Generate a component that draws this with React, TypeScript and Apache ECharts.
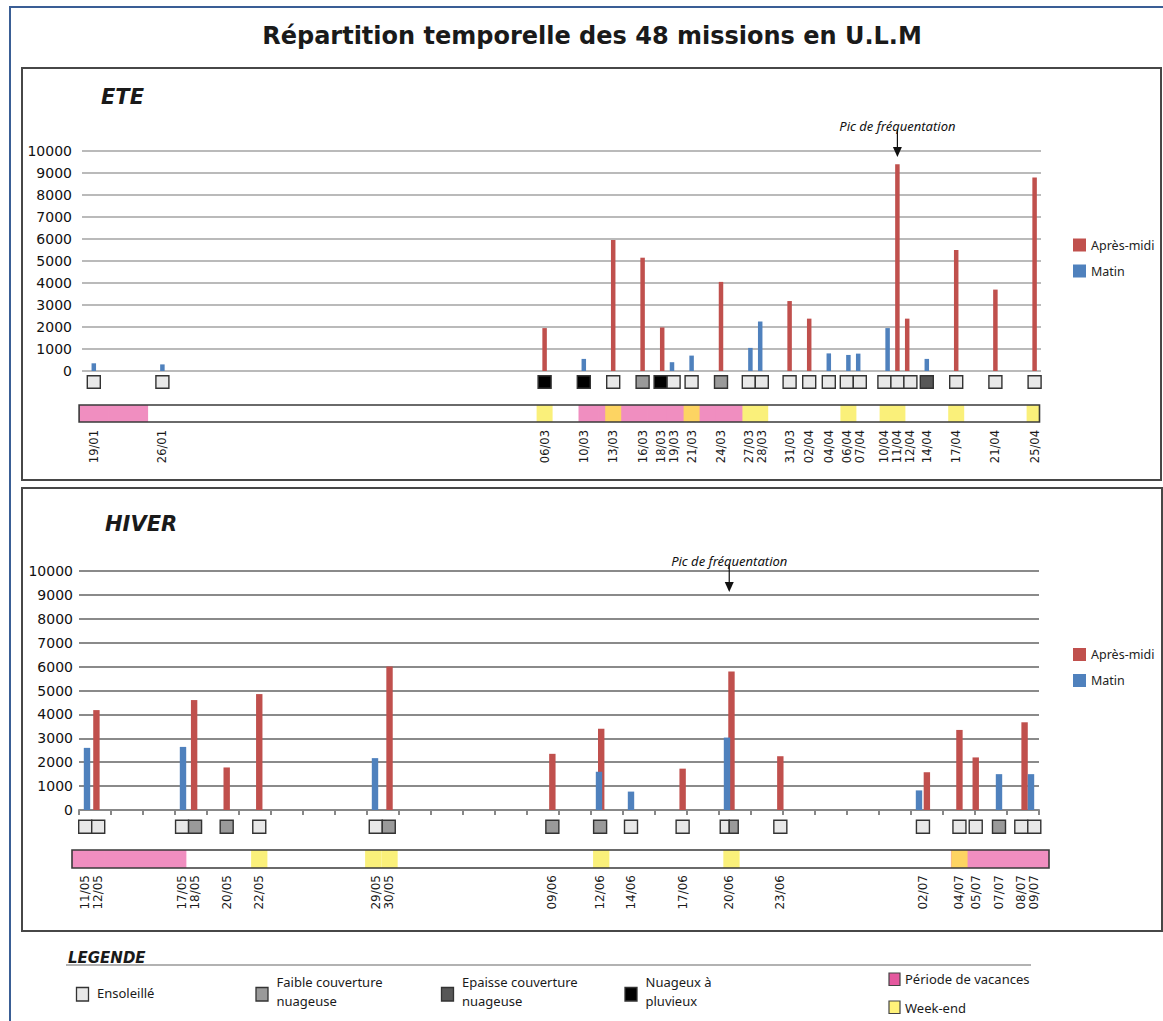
import React, { useEffect, useRef } from 'react';
import * as echarts from 'echarts';

const YEAR = 2010;

// ---------- ETE ----------
const eteFirstDay = '19/01';
const eteLastDay = '25/04';
const eteStripFirstDay = '18/01';
const eteDates = ['19/01', '26/01', '06/03', '10/03', '13/03', '16/03', '18/03', '19/03', '21/03', '24/03', '27/03', '28/03',
  '31/03', '02/04', '04/04', '06/04', '07/04', '10/04', '11/04', '12/04', '14/04', '17/04', '21/04', '25/04'];
const eteMatin = [350, 300, null, 550, null, null, null, 400, 700, null, 1050, 2250,
  null, null, 800, 730, 790, 1950, null, null, 550, null, null, null];
const eteApresMidi = [null, null, 1950, null, 5950, 5150, 1980, null, null, 4050, null, null,
  3180, 2380, null, null, null, null, 9400, 2380, null, 5500, 3700, 8800];
// S = ensoleillé, F = faible couverture, E = épaisse couverture, P = nuageux à pluvieux
const eteMeteo = ['S', 'S', 'P', 'P', 'S', 'F', 'P', 'S', 'S', 'F', 'S', 'S',
  'S', 'S', 'S', 'S', 'S', 'S', 'S', 'S', 'E', 'S', 'S', 'S'];
const eteVacances = [['18/01', '24/01'], ['10/03', '26/03']];
const eteWeekEnds = ['06/03', '13/03', '21/03', '27/03', '28/03', '06/04', '10/04', '11/04', '17/04', '25/04'];
const etePic = '11/04';

// ---------- HIVER ----------
const hivFirstDay = '11/05';
const hivLastDay = '09/07';
const hivDates = ['11/05', '12/05', '17/05', '18/05', '20/05', '22/05', '29/05', '30/05', '09/06', '12/06',
  '14/06', '17/06', '20/06', '23/06', '02/07', '04/07', '05/07', '07/07', '08/07', '09/07'];
const hivMatin = [2600, null, 2640, null, null, null, 2170, null, null, 1600,
  770, null, 3030, null, 820, null, null, 1500, null, 1500];
const hivApresMidi = [null, 4180, null, 4600, 1780, 4850, null, 6000, 2350, 3400,
  null, 1730, 5800, 2250, 1580, 3350, 2200, null, 3670, null];
const hivMeteo = ['S', 'S', 'S', 'F', 'F', 'S', 'S', 'F', 'F', 'F',
  'S', 'S', 'SF', 'S', 'S', 'S', 'S', 'F', 'S', 'S'];
const hivVacances = [['11/05', '17/05'], ['04/07', '09/07']];
const hivWeekEnds = ['22/05', '29/05', '30/05', '12/06', '20/06', '04/07'];
const hivPic = '20/06';

// ---------- texts ----------
const mainTitle = 'Répartition temporelle des 48 missions en U.L.M';
const seriesNames = ['Après-midi', 'Matin'];
const picText = 'Pic de fréquentation';
const meteoLegend: [string, string[]][] = [
  ['S', ['Ensoleillé']],
  ['F', ['Faible couverture', 'nuageuse']],
  ['E', ['Epaisse couverture', 'nuageuse']],
  ['P', ['Nuageux à', 'pluvieux']],
];

// ---------- styles ----------
const RED = '#C0504D';
const BLUE = '#4F81BD';
const PINK = '#F08EC0';
const YELLOW = '#FAF07A';
const ORANGE = '#FDD462';
const LEGEND_PINK = '#E4589E';
const LEGEND_YELLOW = '#FFF27A';
const METEO_COLORS: Record<string, string> = { S: '#E8E8E8', F: '#9A9A9A', E: '#575757', P: '#000000' };
const AXIS_FONT = 'DejaVu Sans';
const TEXT_FONT = 'Noto Sans';

function parseDay(s: string) {
  const [d, m] = s.split('/').map(Number);
  return new Date(YEAR, m - 1, d);
}
function fmtDay(t: Date) {
  return String(t.getDate()).padStart(2, '0') + '/' + String(t.getMonth() + 1).padStart(2, '0');
}
function dayRange(a: string, b: string) {
  const out: string[] = [];
  const end = parseDay(b);
  for (let t = parseDay(a); t <= end; t = new Date(t.getFullYear(), t.getMonth(), t.getDate() + 1)) out.push(fmtDay(t));
  return out;
}
function perDay(days: string[], dates: string[], values: (number | null)[]) {
  return days.map((day) => {
    const i = dates.indexOf(day);
    return i >= 0 && values[i] != null ? values[i] : '-';
  });
}
function stripData(days: string[], vacances: string[][], weekEnds: string[]) {
  const inVac = (day: string) => vacances.some(([a, b]) => parseDay(day) >= parseDay(a) && parseDay(day) <= parseDay(b));
  const vac = days.map((d, i) => (inVac(d) ? [i, 1] : null)).filter(Boolean);
  const we = weekEnds.map((d) => [days.indexOf(d), inVac(d) ? 1 : 0]);
  return { vac, we };
}

const eteDays = dayRange(eteFirstDay, eteLastDay);
const eteStripDays = dayRange(eteStripFirstDay, eteLastDay);
const hivDays = dayRange(hivFirstDay, hivLastDay);

function stripRenderer(kind: 'vac' | 'we') {
  return (params: any, api: any) => {
    const idx = api.value(0);
    const flag = api.value(1);
    const top = api.coord([idx, 1]);
    const bottom = api.coord([idx, 0]);
    const band = api.size([1, 0])[0];
    const w = kind === 'vac' ? band + 0.8 : Math.max(band, 16);
    const cs = params.coordSys;
    const shape = echarts.graphic.clipRectByRect(
      { x: top[0] - w / 2, y: top[1], width: w, height: bottom[1] - top[1] },
      { x: cs.x, y: cs.y, width: cs.width, height: cs.height }
    );
    if (!shape) return null;
    const fill = kind === 'vac' ? PINK : flag === 1 ? ORANGE : YELLOW;
    return { type: 'rect', shape, style: { fill } };
  };
}

const valueAxis = (gridIndex: number, shown: boolean, margin: number, lineColor: string, lineWidth: number) => ({
  gridIndex,
  type: 'value',
  min: 0,
  max: 10000,
  interval: 1000,
  show: shown,
  axisLine: { show: false },
  axisTick: { show: false },
  axisLabel: { fontFamily: AXIS_FONT, fontSize: 14, color: '#111', margin, formatter: (v: number) => String(v) },
  splitLine: { show: shown, lineStyle: { color: lineColor, width: lineWidth } },
});

function buildOption() {
  const eteStrip = stripData(eteStripDays, eteVacances, eteWeekEnds);
  const hivStrip = stripData(hivDays, hivVacances, hivWeekEnds);
  const gridBase = { containLabel: false, outerBoundsMode: 'none' };
  return {
    animation: false,
    backgroundColor: '#ffffff',
    grid: [
      { ...gridBase, left: 82, top: 151, width: 959, height: 220 },
      { ...gridBase, left: 88.9, top: 151, width: 950.6, height: 220 },
      { ...gridBase, left: 79.1, top: 405, width: 960.4, height: 17 },
      { ...gridBase, left: 79, top: 571, width: 960, height: 239 },
      { ...gridBase, left: 72, top: 571, width: 977, height: 239 },
      { ...gridBase, left: 72, top: 850, width: 977, height: 18 },
    ],
    xAxis: [
      { gridIndex: 0, type: 'value', min: 0, max: 1, show: false },
      { gridIndex: 1, type: 'category', data: eteDays, show: false },
      { gridIndex: 2, type: 'category', data: eteStripDays, show: false },
      {
        gridIndex: 3,
        type: 'category',
        data: hivDays,
        axisLine: { show: true, lineStyle: { color: '#888', width: 2 } },
        axisTick: { show: true, interval: 1, length: 5, lineStyle: { color: '#888', width: 2 } },
        axisLabel: { show: false },
        splitLine: { show: false },
      },
      { gridIndex: 4, type: 'category', data: hivDays, show: false },
      { gridIndex: 5, type: 'category', data: hivDays, show: false },
    ],
    yAxis: [
      valueAxis(0, true, 10, '#A3A3A3', 1.5),
      valueAxis(1, false, 0, '#000', 1),
      { gridIndex: 2, type: 'value', min: 0, max: 1, show: false },
      valueAxis(3, true, 6, '#8A8A8A', 2),
      valueAxis(4, false, 0, '#000', 1),
      { gridIndex: 5, type: 'value', min: 0, max: 1, show: false },
    ],
    legend: [0, 1].map((k) => ({
      data: seriesNames,
      orient: 'vertical',
      left: 1068,
      top: k === 0 ? 233.5 : 643,
      itemWidth: 13,
      itemHeight: 13,
      itemGap: 13,
      icon: 'rect',
      selectedMode: false,
      textStyle: { fontFamily: TEXT_FONT, fontSize: 12.5, color: '#222', lineHeight: 13 },
    })),
    series: [
      {
        type: 'bar', name: 'Matin', xAxisIndex: 1, yAxisIndex: 1, z: 3,
        data: perDay(eteDays, eteDates, eteMatin), barWidth: 4.5, barGap: '-100%', itemStyle: { color: BLUE },
      },
      {
        type: 'bar', name: 'Après-midi', xAxisIndex: 1, yAxisIndex: 1,
        data: perDay(eteDays, eteDates, eteApresMidi), barWidth: 4.5, barGap: '-100%', itemStyle: { color: RED },
      },
      {
        type: 'bar', name: 'Matin', xAxisIndex: 3, yAxisIndex: 3, z: 3,
        data: perDay(hivDays, hivDates, hivMatin), barWidth: 6.4, itemStyle: { color: BLUE },
      },
      {
        type: 'bar', name: 'Après-midi', xAxisIndex: 4, yAxisIndex: 4,
        data: perDay(hivDays, hivDates, hivApresMidi), barWidth: 6.4, itemStyle: { color: RED },
      },
      { type: 'custom', xAxisIndex: 2, yAxisIndex: 2, data: eteStrip.vac, renderItem: stripRenderer('vac'), silent: true },
      { type: 'custom', xAxisIndex: 2, yAxisIndex: 2, data: eteStrip.we, renderItem: stripRenderer('we'), silent: true },
      { type: 'custom', xAxisIndex: 5, yAxisIndex: 5, data: hivStrip.vac, renderItem: stripRenderer('vac'), silent: true },
      { type: 'custom', xAxisIndex: 5, yAxisIndex: 5, data: hivStrip.we, renderItem: stripRenderer('we'), silent: true },
    ],
  };
}

// Lays adjacent missions' squares side by side, centred on their bars.
function spreadRuns(xs: number[], ws: number[]) {
  const out = xs.slice();
  let i = 0;
  while (i < xs.length) {
    let j = i;
    while (j + 1 < xs.length && xs[j + 1] - xs[j] < (ws[j] + ws[j + 1]) / 2 + 2) j++;
    let total = 0;
    let sum = 0;
    for (let k = i; k <= j; k++) { total += ws[k]; sum += xs[k]; }
    let cur = sum / (j - i + 1) - total / 2;
    for (let k = i; k <= j; k++) { out[k] = cur + ws[k] / 2; cur += ws[k]; }
    i = j + 1;
  }
  return out;
}

type PanelSpec = {
  days: string[]; dates: string[]; matin: (number | null)[]; apres: (number | null)[]; meteo: string[];
  axisMatin: number; axisApres: number; squareY: number; squareH: number; labelTop: number; labelSize: number;
  pic: string; picTextY: number; arrowTip: number;
};

function panelMarks(chart: any, p: PanelSpec) {
  const els: any[] = [];
  const xs = p.dates.map((d, i) => {
    const idx = p.days.indexOf(d);
    const pts: number[] = [];
    if (p.matin[i] != null) pts.push(chart.convertToPixel({ xAxisIndex: p.axisMatin }, idx) as number);
    if (p.apres[i] != null) pts.push(chart.convertToPixel({ xAxisIndex: p.axisApres }, idx) as number);
    return pts.reduce((s, v) => s + v, 0) / pts.length;
  });
  const widths = p.meteo.map((m) => (m.length > 1 ? 18 : 13));
  const centers = spreadRuns(xs, widths);
  centers.forEach((cx, i) => {
    const parts = p.meteo[i].split('');
    const w = widths[i];
    const pw = w / parts.length;
    parts.forEach((c, k) => {
      els.push({
        type: 'rect', silent: true, z: 10,
        shape: { x: cx - w / 2 + k * pw, y: p.squareY - p.squareH / 2, width: pw, height: p.squareH },
        style: { fill: METEO_COLORS[c], stroke: '#333', lineWidth: 1.4 },
      });
    });
    els.push({
      type: 'text', silent: true, z: 10, x: cx, y: p.labelTop, rotation: Math.PI / 2,
      style: {
        text: p.dates[i], font: `${p.labelSize}px "${AXIS_FONT}"`, fill: '#1a1a1a',
        align: 'right', verticalAlign: 'middle', textAlign: 'right', textVerticalAlign: 'middle',
      },
    });
  });
  const ax = xs[p.dates.indexOf(p.pic)];
  els.push({
    type: 'text', silent: true, z: 10, x: ax, y: p.picTextY,
    style: {
      text: picText, font: `italic 13px "${TEXT_FONT}"`, fill: '#111',
      align: 'center', verticalAlign: 'middle', textAlign: 'center', textVerticalAlign: 'middle',
    },
  });
  els.push({
    type: 'line', silent: true, z: 10,
    shape: { x1: ax, y1: p.picTextY + 4, x2: ax, y2: p.arrowTip - 8 },
    style: { stroke: '#111', lineWidth: 1.2 },
  });
  els.push({
    type: 'polygon', silent: true, z: 10,
    shape: { points: [[ax - 4.5, p.arrowTip - 10], [ax + 4.5, p.arrowTip - 10], [ax, p.arrowTip]] },
    style: { fill: '#111' },
  });
  return els;
}

function text(x: number, y: number, s: string, font: string, align = 'left') {
  return {
    type: 'text', silent: true, z: 10, x, y,
    style: { text: s, font, fill: '#1a1a1a', align, verticalAlign: 'middle', textAlign: align, textVerticalAlign: 'middle' },
  };
}
function box(x: number, y: number, width: number, height: number, stroke: string, lineWidth: number, fill = 'none') {
  return { type: 'rect', silent: true, z: 9, shape: { x, y, width, height }, style: { fill, stroke, lineWidth } };
}

function buildGraphics(chart: any) {
  const els: any[] = [];
  // frames
  els.push(box(10, 7, 1200, 1100, '#3A5E95', 2));
  els.push(box(22, 68, 1139, 412, '#474747', 2));
  els.push(box(22, 488, 1140, 443, '#474747', 2));
  // titles
  els.push(text(592, 36, mainTitle, `bold 24px "${AXIS_FONT}"`, 'center'));
  els.push(text(101, 97, 'ETE', `italic bold 21px "${AXIS_FONT}"`));
  els.push(text(105, 524, 'HIVER', `italic bold 21px "${AXIS_FONT}"`));
  // strips borders
  els.push(box(79.1, 405, 960.4, 17, '#3a3a3a', 1.6));
  els.push(box(72, 850, 977, 18, '#3a3a3a', 1.6));
  // weather squares, date labels, peak arrows
  els.push(...panelMarks(chart, {
    days: eteDays, dates: eteDates, matin: eteMatin, apres: eteApresMidi, meteo: eteMeteo,
    axisMatin: 1, axisApres: 1, squareY: 382, squareH: 12.6, labelTop: 430, labelSize: 11.5,
    pic: etePic, picTextY: 126, arrowTip: 157,
  }));
  els.push(...panelMarks(chart, {
    days: hivDays, dates: hivDates, matin: hivMatin, apres: hivApresMidi, meteo: hivMeteo,
    axisMatin: 3, axisApres: 4, squareY: 826.7, squareH: 13, labelTop: 875, labelSize: 12,
    pic: hivPic, picTextY: 561, arrowTip: 592,
  }));
  // key
  els.push(text(68, 958, 'LEGENDE', `italic bold 15px "${AXIS_FONT}"`));
  els.push({
    type: 'line', silent: true, z: 10,
    shape: { x1: 66, y1: 965, x2: 1031, y2: 965 },
    style: { stroke: '#666', lineWidth: 1.2 },
  });
  const keyX = [76.5, 256, 441.5, 625];
  meteoLegend.forEach(([code, lines], i) => {
    els.push({
      type: 'rect', silent: true, z: 10,
      shape: { x: keyX[i], y: 987.5, width: 12, height: 13.5 },
      style: { fill: METEO_COLORS[code], stroke: '#333', lineWidth: 1.3 },
    });
    const tx = keyX[i] + 20.5;
    if (lines.length === 1) els.push(text(tx, 993, lines[0], `13px "${TEXT_FONT}"`));
    else {
      els.push(text(tx, 982, lines[0], `13px "${TEXT_FONT}"`));
      els.push(text(tx, 1001, lines[1], `13px "${TEXT_FONT}"`));
    }
  });
  els.push({
    type: 'rect', silent: true, z: 10,
    shape: { x: 889, y: 973, width: 11, height: 12.5 },
    style: { fill: LEGEND_PINK, stroke: '#444', lineWidth: 1.2 },
  });
  els.push(text(905, 979, 'Période de vacances', `13px "${TEXT_FONT}"`));
  els.push({
    type: 'rect', silent: true, z: 10,
    shape: { x: 889, y: 1001, width: 11, height: 12.5 },
    style: { fill: LEGEND_YELLOW, stroke: '#444', lineWidth: 1.2 },
  });
  els.push(text(905, 1007.5, 'Week-end', `13px "${TEXT_FONT}"`));
  return els;
}

export default function App() {
  const ref = useRef<HTMLDivElement>(null);
  useEffect(() => {
    const el = ref.current;
    if (!el) return;
    const chart = echarts.init(el, null, { renderer: 'svg' });
    chart.setOption(buildOption() as any);
    chart.setOption({ graphic: { elements: buildGraphics(chart) } } as any);
    return () => chart.dispose();
  }, []);
  return (
    <div
      ref={ref}
      style={{ position: 'absolute', left: 0, top: 0, width: 1163, height: 1021, background: '#ffffff' }}
    />
  );
}
